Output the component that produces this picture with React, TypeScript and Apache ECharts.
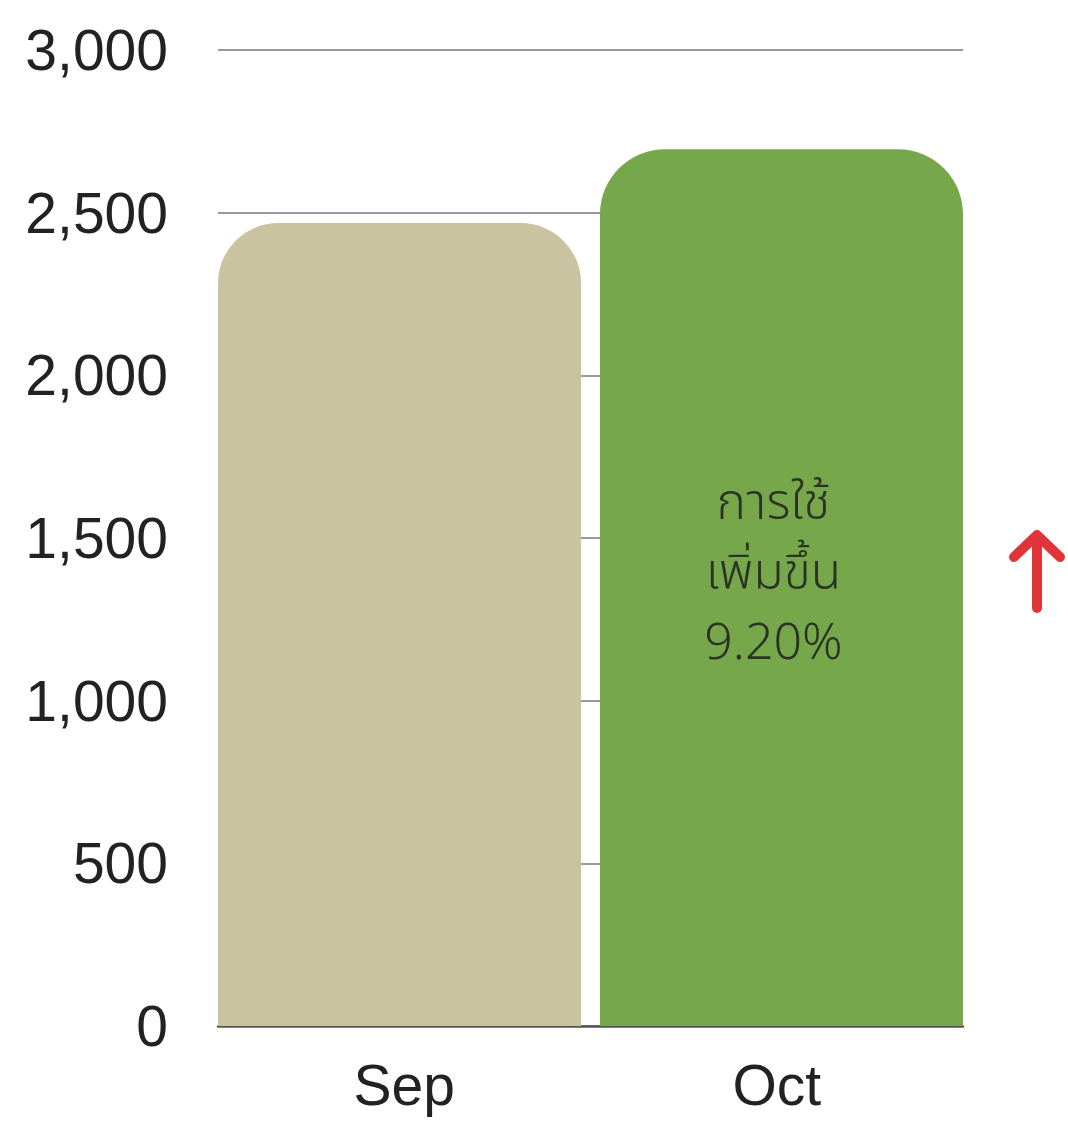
import React, { useEffect, useRef } from "react";
import * as echarts from "echarts";

const categories = ["Sep", "Oct"];
const sepValues = [2468, "-"];
const octValues = ["-", 2695];
const yTicks = [0, 500, 1000, 1500, 2000, 2500, 3000];
const changeLabel = ["การใช้", "เพิ่มขึ้น", "9.20%"];

export default function App() {
  const ref = useRef<HTMLDivElement>(null);
  useEffect(() => {
    document.body.style.margin = "0";
    const chart = echarts.init(ref.current!, null, { renderer: "svg" });
    const font = "'Liberation Sans', Arial, Helvetica, sans-serif";
    chart.setOption({
      animation: false,
      grid: { left: 218, right: 105, top: 50, bottom: 95 },
      xAxis: {
        type: "category",
        data: categories,
        axisLine: { show: true, lineStyle: { color: "#555", width: 2.5 } },
        axisTick: { show: false },
        axisLabel: { fontSize: 57, color: "#222", fontFamily: font, margin: 30 },
      },
      yAxis: {
        type: "value",
        min: yTicks[0],
        max: yTicks[yTicks.length - 1],
        interval: 500,
        axisLine: { show: false },
        axisTick: { show: false },
        splitLine: { lineStyle: { color: "#999", width: 2 } },
        axisLabel: {
          fontSize: 57,
          color: "#222",
          fontFamily: font,
          margin: 50,
          padding: [0, 0, 8, 0],
          formatter: (v: number) => v.toLocaleString("en-US"),
        },
      },
      series: [
        {
          type: "bar",
          data: sepValues,
          barWidth: 363,
          barGap: "-97.4%",
          itemStyle: { color: "#c9c3a1", borderRadius: [60, 60, 0, 0] },
        },
        {
          type: "bar",
          data: octValues,
          barWidth: 363,
          itemStyle: { color: "#76a84b", borderRadius: [65, 65, 0, 0] },
          label: {
            show: true,
            position: "inside",
            offset: [-8, -14],
            formatter: () => changeLabel.join("\n"),
            fontSize: 50,
            lineHeight: 70,
            color: "#2b3326",
            fontWeight: 300,
            fontFamily: "'Noto Sans Thai', 'Noto Sans', 'DejaVu Sans', sans-serif",
          },
        },
      ],
      graphic: [
        {
          type: "line",
          shape: { x1: 1037, y1: 608, x2: 1037, y2: 540 },
          style: { stroke: "#e0343a", lineWidth: 10, lineCap: "round" },
        },
        {
          type: "polyline",
          shape: { points: [[1014, 557], [1037, 535], [1060, 557]] },
          style: { stroke: "#e0343a", lineWidth: 10, lineCap: "round", lineJoin: "round", fill: "none" },
        },
      ],
    });
    return () => chart.dispose();
  }, []);
  return <div ref={ref} style={{ width: 1068, height: 1121 }} />;
}
